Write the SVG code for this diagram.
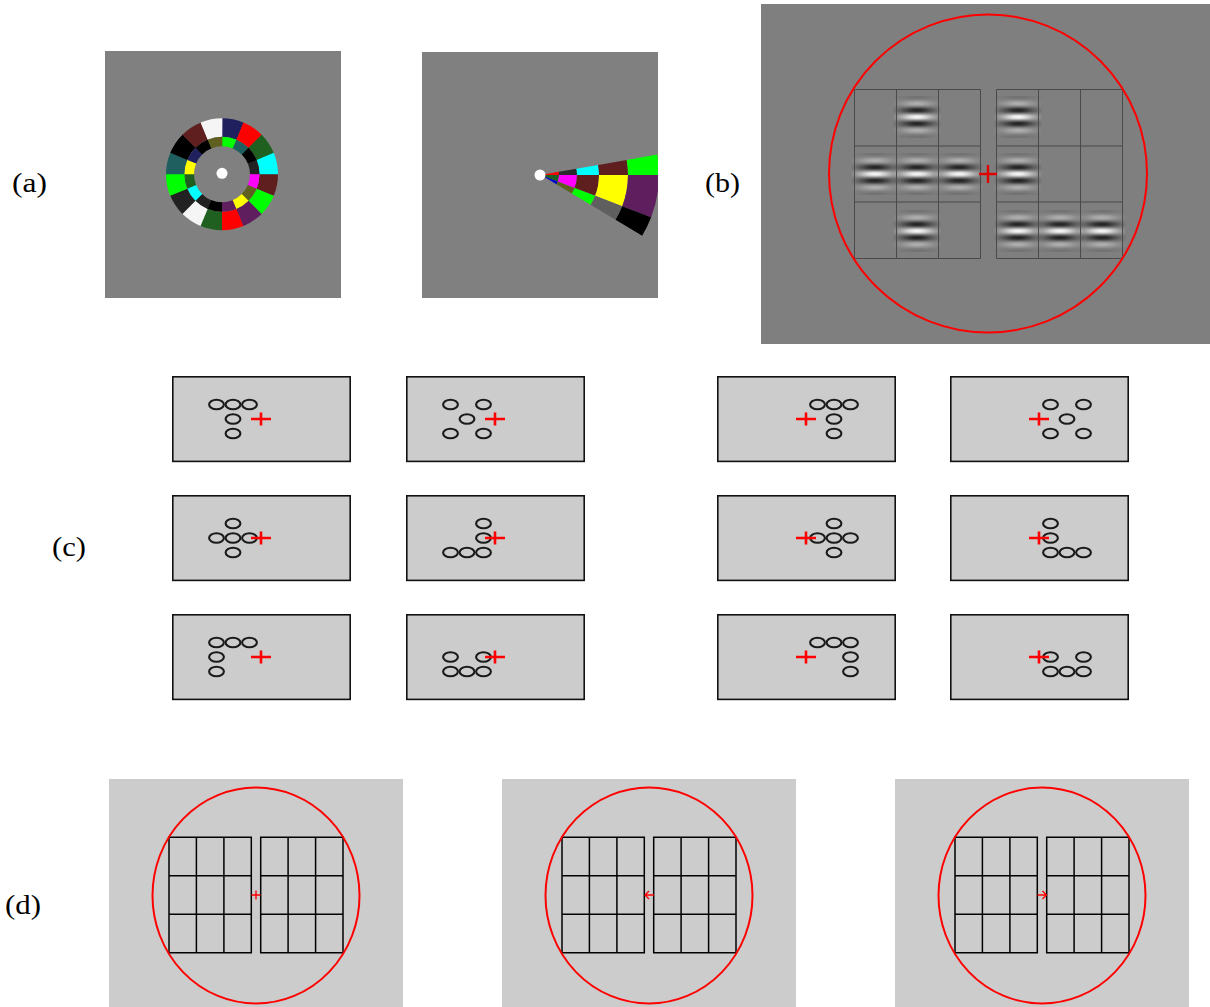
<svg xmlns="http://www.w3.org/2000/svg" xmlns:xlink="http://www.w3.org/1999/xlink" width="1210" height="1007" viewBox="0 0 1210 1007">
<style>
.lbl{font-family:"Liberation Serif","DejaVu Serif",serif;font-size:27px;fill:#000}
.o{fill:none;stroke-width:18.5;stroke-dasharray:18.7 400}
.i{fill:none;stroke-width:9.5;stroke-dasharray:13.2 300}
.gl{stroke:#4a4a4a;stroke-width:1;fill:none}
.cp{fill:#cccccc;stroke:#111;stroke-width:1.6}
.el{fill:none;stroke:#1a1a1a;stroke-width:2.1}
.cr{stroke:#ff0000;stroke-width:2.6;fill:none}
.dg{stroke:#000;stroke-width:1.5;fill:none}
.rc{fill:none;stroke:#ff0000;stroke-width:2}
</style>
<defs>
<linearGradient id="gy" gradientUnits="userSpaceOnUse" x1="0" y1="-21" x2="0" y2="21">
<stop offset="0" stop-color="#727272"/><stop offset="0.0417" stop-color="#727272"/><stop offset="0.0833" stop-color="#808080"/><stop offset="0.125" stop-color="#9a9a9a"/><stop offset="0.1667" stop-color="#b0b0b0"/><stop offset="0.2083" stop-color="#aaaaaa"/><stop offset="0.25" stop-color="#808080"/><stop offset="0.2917" stop-color="#434343"/><stop offset="0.3333" stop-color="#1d1d1d"/><stop offset="0.375" stop-color="#323232"/><stop offset="0.4167" stop-color="#808080"/><stop offset="0.4583" stop-color="#d8d8d8"/><stop offset="0.5" stop-color="#ffffff"/><stop offset="0.5417" stop-color="#d8d8d8"/><stop offset="0.5833" stop-color="#808080"/><stop offset="0.625" stop-color="#323232"/><stop offset="0.6667" stop-color="#1d1d1d"/><stop offset="0.7083" stop-color="#434343"/><stop offset="0.75" stop-color="#808080"/><stop offset="0.7917" stop-color="#aaaaaa"/><stop offset="0.8333" stop-color="#b0b0b0"/><stop offset="0.875" stop-color="#9a9a9a"/><stop offset="0.9167" stop-color="#808080"/><stop offset="0.9583" stop-color="#727272"/><stop offset="1" stop-color="#727272"/>
</linearGradient>
<linearGradient id="gx" gradientUnits="userSpaceOnUse" x1="-24" y1="0" x2="24" y2="0">
<stop offset="0" stop-color="#fff" stop-opacity="0.03"/><stop offset="0.0833" stop-color="#fff" stop-opacity="0.19"/><stop offset="0.1667" stop-color="#fff" stop-opacity="0.35"/><stop offset="0.25" stop-color="#fff" stop-opacity="0.55"/><stop offset="0.3333" stop-color="#fff" stop-opacity="0.77"/><stop offset="0.4167" stop-color="#fff" stop-opacity="0.94"/><stop offset="0.5" stop-color="#fff" stop-opacity="1"/><stop offset="0.5833" stop-color="#fff" stop-opacity="0.94"/><stop offset="0.6667" stop-color="#fff" stop-opacity="0.77"/><stop offset="0.75" stop-color="#fff" stop-opacity="0.55"/><stop offset="0.8333" stop-color="#fff" stop-opacity="0.35"/><stop offset="0.9167" stop-color="#fff" stop-opacity="0.19"/><stop offset="1" stop-color="#fff" stop-opacity="0.03"/>
</linearGradient>
<mask id="gm" maskUnits="userSpaceOnUse" x="-24" y="-21" width="48" height="42"><rect x="-24" y="-21" width="48" height="42" fill="url(#gx)"/></mask>
<g id="gabor"><rect x="-24" y="-21" width="48" height="42" fill="url(#gy)" mask="url(#gm)"/></g>
<clipPath id="wclip"><rect x="422" y="52" width="236" height="246"/></clipPath>
</defs>

<!-- labels -->
<text class="lbl" x="12" y="192" textLength="35" lengthAdjust="spacingAndGlyphs">(a)</text>
<text class="lbl" x="705" y="192" textLength="35" lengthAdjust="spacingAndGlyphs">(b)</text>
<text class="lbl" x="52" y="556" textLength="34" lengthAdjust="spacingAndGlyphs">(c)</text>
<text class="lbl" x="5" y="914" textLength="36" lengthAdjust="spacingAndGlyphs">(d)</text>

<!-- (a) ring -->
<g id="a-ring">
<rect x="105" y="51" width="236" height="247" fill="#808080"/>
<g transform="translate(222 174.3)">
<circle class="o" r="46.75" stroke="#20205f" transform="rotate(-90)"/>
<circle class="o" r="46.75" stroke="#ff0000" transform="rotate(-67.5)"/>
<circle class="o" r="46.75" stroke="#1f5f1f" transform="rotate(-45)"/>
<circle class="o" r="46.75" stroke="#00ffff" transform="rotate(-22.5)"/>
<circle class="o" r="46.75" stroke="#5f1f1f" transform="rotate(0)"/>
<circle class="o" r="46.75" stroke="#00ff00" transform="rotate(22.5)"/>
<circle class="o" r="46.75" stroke="#5f1f5f" transform="rotate(45)"/>
<circle class="o" r="46.75" stroke="#ff0000" transform="rotate(67.5)"/>
<circle class="o" r="46.75" stroke="#1f5f1f" transform="rotate(90)"/>
<circle class="o" r="46.75" stroke="#f5f5f5" transform="rotate(112.5)"/>
<circle class="o" r="46.75" stroke="#222222" transform="rotate(135)"/>
<circle class="o" r="46.75" stroke="#00ff00" transform="rotate(157.5)"/>
<circle class="o" r="46.75" stroke="#1f5f5f" transform="rotate(180)"/>
<circle class="o" r="46.75" stroke="#000000" transform="rotate(202.5)"/>
<circle class="o" r="46.75" stroke="#5f1f1f" transform="rotate(225)"/>
<circle class="o" r="46.75" stroke="#f5f5f5" transform="rotate(247.5)"/>
<circle class="i" r="32.75" stroke="#00ff00" transform="rotate(-90)"/>
<circle class="i" r="32.75" stroke="#1f5f5f" transform="rotate(-67.5)"/>
<circle class="i" r="32.75" stroke="#000000" transform="rotate(-45)"/>
<circle class="i" r="32.75" stroke="#222222" transform="rotate(-22.5)"/>
<circle class="i" r="32.75" stroke="#ff00ff" transform="rotate(0)"/>
<circle class="i" r="32.75" stroke="#5f5f1f" transform="rotate(22.5)"/>
<circle class="i" r="32.75" stroke="#ffff00" transform="rotate(45)"/>
<circle class="i" r="32.75" stroke="#5f1f5f" transform="rotate(67.5)"/>
<circle class="i" r="32.75" stroke="#000000" transform="rotate(90)"/>
<circle class="i" r="32.75" stroke="#222222" transform="rotate(112.5)"/>
<circle class="i" r="32.75" stroke="#00ffff" transform="rotate(135)"/>
<circle class="i" r="32.75" stroke="#1f5f1f" transform="rotate(157.5)"/>
<circle class="i" r="32.75" stroke="#ffff00" transform="rotate(180)"/>
<circle class="i" r="32.75" stroke="#20205f" transform="rotate(202.5)"/>
<circle class="i" r="32.75" stroke="#000000" transform="rotate(225)"/>
<circle class="i" r="32.75" stroke="#5f5f1f" transform="rotate(247.5)"/>
<circle r="5.5" fill="#ffffff" cy="-1"/>
</g>
</g>

<!-- (a) wedge -->
<g id="a-wedge">
<rect x="422" y="52" width="236" height="246" fill="#808080"/>
<g clip-path="url(#wclip)">
<path fill="#ff0000" d="M544.94,174.31 L558.73,171.87 A18,18 0 0 1 559,175 L545,175 A4,4 0 0 0 544.94,174.31Z"/>
<path fill="#2a2a2a" d="M558.73,171.87 L576.45,168.75 A36,36 0 0 1 577,175 L559,175 A18,18 0 0 0 558.73,171.87Z"/>
<path fill="#00ffff" d="M576.45,168.75 L598.12,164.93 A58,58 0 0 1 599,175 L577,175 A36,36 0 0 0 576.45,168.75Z"/>
<path fill="#5f1f1f" d="M598.12,164.93 L626.68,159.89 A87,87 0 0 1 628,175 L599,175 A58,58 0 0 0 598.12,164.93Z"/>
<path fill="#00ff00" d="M626.68,159.89 L657.21,154.51 A118,118 0 0 1 659,175 L628,175 A87,87 0 0 0 626.68,159.89Z"/>
<path fill="#1f5f1f" d="M545,175 L559,175 A18,18 0 0 1 557.80,181.45 L544.73,176.43 A4,4 0 0 0 545,175Z"/>
<path fill="#ff00ff" d="M559,175 L577,175 A36,36 0 0 1 574.61,187.90 L557.80,181.45 A18,18 0 0 0 559,175Z"/>
<path fill="#5f1f1f" d="M577,175 L599,175 A58,58 0 0 1 595.15,195.79 L574.61,187.90 A36,36 0 0 0 577,175Z"/>
<path fill="#ffff00" d="M599,175 L628,175 A87,87 0 0 1 622.22,206.18 L595.15,195.79 A58,58 0 0 0 599,175Z"/>
<path fill="#5f1f5f" d="M628,175 L659,175 A118,118 0 0 1 651.16,217.29 L622.22,206.18 A87,87 0 0 0 628,175Z"/>
<path fill="#0000cc" d="M544.73,176.43 L557.80,181.45 A18,18 0 0 1 556.43,184.27 L544.43,177.06 A4,4 0 0 0 544.73,176.43Z"/>
<path fill="#5f5f1f" d="M557.80,181.45 L574.61,187.90 A36,36 0 0 1 571.86,193.54 L556.43,184.27 A18,18 0 0 0 557.80,181.45Z"/>
<path fill="#00ff00" d="M574.61,187.90 L595.15,195.79 A58,58 0 0 1 590.72,204.87 L571.86,193.54 A36,36 0 0 0 574.61,187.90Z"/>
<path fill="#5f5f5f" d="M595.15,195.79 L622.22,206.18 A87,87 0 0 1 615.57,219.81 L590.72,204.87 A58,58 0 0 0 595.15,195.79Z"/>
<path fill="#000000" d="M622.22,206.18 L651.16,217.29 A118,118 0 0 1 642.15,235.77 L615.57,219.81 A87,87 0 0 0 622.22,206.18Z"/>
</g>
<circle cx="540" cy="175" r="5.5" fill="#ffffff"/>
</g>

<!-- (b) gabor panel -->
<g id="b-panel">
<rect x="761" y="4" width="449" height="340" fill="#7f7f7f"/>
<use xlink:href="#gabor" href="#gabor" x="917" y="117"/>
<use xlink:href="#gabor" href="#gabor" x="875" y="174"/>
<use xlink:href="#gabor" href="#gabor" x="917" y="174"/>
<use xlink:href="#gabor" href="#gabor" x="959" y="174"/>
<use xlink:href="#gabor" href="#gabor" x="917" y="231"/>
<use xlink:href="#gabor" href="#gabor" x="1018" y="117"/>
<use xlink:href="#gabor" href="#gabor" x="1018" y="174"/>
<use xlink:href="#gabor" href="#gabor" x="1018" y="231"/>
<use xlink:href="#gabor" href="#gabor" x="1060" y="231"/>
<use xlink:href="#gabor" href="#gabor" x="1102" y="231"/>
<path class="gl" d="M854.5,89.5H980.5V258.5H854.5Z M896.5,89.5V258.5 M938.5,89.5V258.5 M854.5,146H980.5 M854.5,202H980.5"/>
<path class="gl" d="M996.5,89.5H1122.5V258.5H996.5Z M1038.5,89.5V258.5 M1080.5,89.5V258.5 M996.5,146H1122.5 M996.5,202H1122.5"/>
<circle class="rc" cx="988" cy="173.5" r="159"/>
<path d="M979,174H997 M988,165V183" stroke="#e00000" stroke-width="2.4" fill="none"/>
</g>

<!-- (c) panels -->
<g id="c-r1-1">
<rect class="cp" x="172.8" y="376.8" width="177.4" height="84.6"/>
<ellipse class="el" cx="216.5" cy="404.5" rx="7.4" ry="4.8"/><ellipse class="el" cx="233" cy="404.5" rx="7.4" ry="4.8"/><ellipse class="el" cx="249.5" cy="404.5" rx="7.4" ry="4.8"/>
<ellipse class="el" cx="233" cy="419" rx="7.4" ry="4.8"/><ellipse class="el" cx="233" cy="433.5" rx="7.4" ry="4.8"/>
<path class="cr" d="M251,419H271 M261,412.5V425.5"/>
</g>
<g id="c-r1-2">
<rect class="cp" x="406.8" y="376.8" width="177.4" height="84.6"/>
<ellipse class="el" cx="450.5" cy="404.5" rx="7.4" ry="4.8"/><ellipse class="el" cx="483.5" cy="404.5" rx="7.4" ry="4.8"/>
<ellipse class="el" cx="467" cy="419" rx="7.4" ry="4.8"/>
<ellipse class="el" cx="450.5" cy="433.5" rx="7.4" ry="4.8"/><ellipse class="el" cx="483.5" cy="433.5" rx="7.4" ry="4.8"/>
<path class="cr" d="M485,419H505 M495,412.5V425.5"/>
</g>
<g id="c-r1-3">
<rect class="cp" x="717.8" y="376.8" width="177.4" height="84.6"/>
<ellipse class="el" cx="817.5" cy="404.5" rx="7.4" ry="4.8"/><ellipse class="el" cx="834" cy="404.5" rx="7.4" ry="4.8"/><ellipse class="el" cx="850.5" cy="404.5" rx="7.4" ry="4.8"/>
<ellipse class="el" cx="834" cy="419" rx="7.4" ry="4.8"/><ellipse class="el" cx="834" cy="433.5" rx="7.4" ry="4.8"/>
<path class="cr" d="M796,419H816 M806,412.5V425.5"/>
</g>
<g id="c-r1-4">
<rect class="cp" x="950.8" y="376.8" width="177.4" height="84.6"/>
<ellipse class="el" cx="1050.5" cy="404.5" rx="7.4" ry="4.8"/><ellipse class="el" cx="1083.5" cy="404.5" rx="7.4" ry="4.8"/>
<ellipse class="el" cx="1067" cy="419" rx="7.4" ry="4.8"/>
<ellipse class="el" cx="1050.5" cy="433.5" rx="7.4" ry="4.8"/><ellipse class="el" cx="1083.5" cy="433.5" rx="7.4" ry="4.8"/>
<path class="cr" d="M1029,419H1049 M1039,412.5V425.5"/>
</g>

<g id="c-r2-1">
<rect class="cp" x="172.8" y="495.8" width="177.4" height="84.6"/>
<ellipse class="el" cx="233" cy="523.5" rx="7.4" ry="4.8"/>
<ellipse class="el" cx="216.5" cy="538" rx="7.4" ry="4.8"/><ellipse class="el" cx="233" cy="538" rx="7.4" ry="4.8"/><ellipse class="el" cx="249.5" cy="538" rx="7.4" ry="4.8"/>
<ellipse class="el" cx="233" cy="552.5" rx="7.4" ry="4.8"/>
<path class="cr" d="M251,538H271 M261,531.5V544.5"/>
</g>
<g id="c-r2-2">
<rect class="cp" x="406.8" y="495.8" width="177.4" height="84.6"/>
<ellipse class="el" cx="483.5" cy="523.5" rx="7.4" ry="4.8"/>
<ellipse class="el" cx="483.5" cy="538" rx="7.4" ry="4.8"/>
<ellipse class="el" cx="450.5" cy="552.5" rx="7.4" ry="4.8"/><ellipse class="el" cx="467" cy="552.5" rx="7.4" ry="4.8"/><ellipse class="el" cx="483.5" cy="552.5" rx="7.4" ry="4.8"/>
<path class="cr" d="M485,538H505 M495,531.5V544.5"/>
</g>
<g id="c-r2-3">
<rect class="cp" x="717.8" y="495.8" width="177.4" height="84.6"/>
<ellipse class="el" cx="834" cy="523.5" rx="7.4" ry="4.8"/>
<ellipse class="el" cx="817.5" cy="538" rx="7.4" ry="4.8"/><ellipse class="el" cx="834" cy="538" rx="7.4" ry="4.8"/><ellipse class="el" cx="850.5" cy="538" rx="7.4" ry="4.8"/>
<ellipse class="el" cx="834" cy="552.5" rx="7.4" ry="4.8"/>
<path class="cr" d="M796,538H816 M806,531.5V544.5"/>
</g>
<g id="c-r2-4">
<rect class="cp" x="950.8" y="495.8" width="177.4" height="84.6"/>
<ellipse class="el" cx="1050.5" cy="523.5" rx="7.4" ry="4.8"/>
<ellipse class="el" cx="1050.5" cy="538" rx="7.4" ry="4.8"/>
<ellipse class="el" cx="1050.5" cy="552.5" rx="7.4" ry="4.8"/><ellipse class="el" cx="1067" cy="552.5" rx="7.4" ry="4.8"/><ellipse class="el" cx="1083.5" cy="552.5" rx="7.4" ry="4.8"/>
<path class="cr" d="M1029,538H1049 M1039,531.5V544.5"/>
</g>

<g id="c-r3-1">
<rect class="cp" x="172.8" y="614.8" width="177.4" height="84.6"/>
<ellipse class="el" cx="216.5" cy="642.5" rx="7.4" ry="4.8"/><ellipse class="el" cx="233" cy="642.5" rx="7.4" ry="4.8"/><ellipse class="el" cx="249.5" cy="642.5" rx="7.4" ry="4.8"/>
<ellipse class="el" cx="216.5" cy="657" rx="7.4" ry="4.8"/><ellipse class="el" cx="216.5" cy="671.5" rx="7.4" ry="4.8"/>
<path class="cr" d="M251,657H271 M261,650.5V663.5"/>
</g>
<g id="c-r3-2">
<rect class="cp" x="406.8" y="614.8" width="177.4" height="84.6"/>
<ellipse class="el" cx="450.5" cy="657" rx="7.4" ry="4.8"/><ellipse class="el" cx="483.5" cy="657" rx="7.4" ry="4.8"/>
<ellipse class="el" cx="450.5" cy="671.5" rx="7.4" ry="4.8"/><ellipse class="el" cx="467" cy="671.5" rx="7.4" ry="4.8"/><ellipse class="el" cx="483.5" cy="671.5" rx="7.4" ry="4.8"/>
<path class="cr" d="M485,657H505 M495,650.5V663.5"/>
</g>
<g id="c-r3-3">
<rect class="cp" x="717.8" y="614.8" width="177.4" height="84.6"/>
<ellipse class="el" cx="817.5" cy="642.5" rx="7.4" ry="4.8"/><ellipse class="el" cx="834" cy="642.5" rx="7.4" ry="4.8"/><ellipse class="el" cx="850.5" cy="642.5" rx="7.4" ry="4.8"/>
<ellipse class="el" cx="850.5" cy="657" rx="7.4" ry="4.8"/><ellipse class="el" cx="850.5" cy="671.5" rx="7.4" ry="4.8"/>
<path class="cr" d="M796,657H816 M806,650.5V663.5"/>
</g>
<g id="c-r3-4">
<rect class="cp" x="950.8" y="614.8" width="177.4" height="84.6"/>
<ellipse class="el" cx="1050.5" cy="657" rx="7.4" ry="4.8"/><ellipse class="el" cx="1083.5" cy="657" rx="7.4" ry="4.8"/>
<ellipse class="el" cx="1050.5" cy="671.5" rx="7.4" ry="4.8"/><ellipse class="el" cx="1067" cy="671.5" rx="7.4" ry="4.8"/><ellipse class="el" cx="1083.5" cy="671.5" rx="7.4" ry="4.8"/>
<path class="cr" d="M1029,657H1049 M1039,650.5V663.5"/>
</g>

<!-- (d) panels -->
<g id="d-1">
<rect x="109" y="779" width="294" height="228" fill="#cccccc"/>
<path class="dg" d="M169,837.3H251.3V952.7H169Z M196.4,837.3V952.7 M223.9,837.3V952.7 M169,875.8H251.3 M169,914.2H251.3"/>
<path class="dg" d="M260.7,837.3H343V952.7H260.7Z M288.1,837.3V952.7 M315.6,837.3V952.7 M260.7,875.8H343 M260.7,914.2H343"/>
<ellipse class="rc" cx="256" cy="895.5" rx="103.5" ry="108"/>
<path d="M251.5,895H260.5 M256,890.5V899.5" stroke="#ff0000" stroke-width="1.4" fill="none"/>
</g>
<g id="d-2">
<rect x="502" y="779" width="294" height="228" fill="#cccccc"/>
<path class="dg" d="M562,837.3H644.3V952.7H562Z M589.4,837.3V952.7 M616.9,837.3V952.7 M562,875.8H644.3 M562,914.2H644.3"/>
<path class="dg" d="M653.7,837.3H736V952.7H653.7Z M681.1,837.3V952.7 M708.6,837.3V952.7 M653.7,875.8H736 M653.7,914.2H736"/>
<ellipse class="rc" cx="649" cy="895.5" rx="103.5" ry="108"/>
<path d="M645,895H654 M649,891L645,895L649,899" stroke="#ff0000" stroke-width="1.3" fill="none"/>
</g>
<g id="d-3">
<rect x="895" y="779" width="294" height="228" fill="#cccccc"/>
<path class="dg" d="M955,837.3H1037.3V952.7H955Z M982.4,837.3V952.7 M1009.9,837.3V952.7 M955,875.8H1037.3 M955,914.2H1037.3"/>
<path class="dg" d="M1046.7,837.3H1129V952.7H1046.7Z M1074.1,837.3V952.7 M1101.6,837.3V952.7 M1046.7,875.8H1129 M1046.7,914.2H1129"/>
<ellipse class="rc" cx="1042" cy="895.5" rx="103.5" ry="108"/>
<path d="M1037.5,895H1046.5 M1042.5,891L1046.5,895L1042.5,899" stroke="#ff0000" stroke-width="1.3" fill="none"/>
</g>
</svg>
